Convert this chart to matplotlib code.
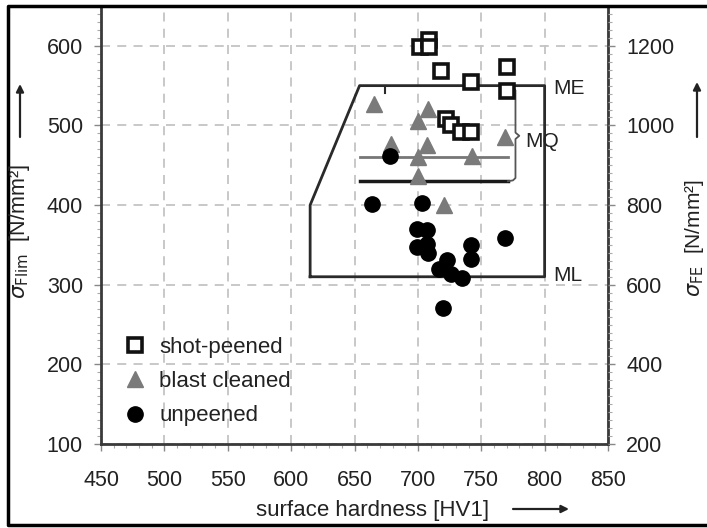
import matplotlib.pyplot as plt
from matplotlib.lines import Line2D
from matplotlib.patches import FancyArrowPatch
from matplotlib.ticker import MultipleLocator

plt.rcParams['font.family'] = ['Liberation Sans', 'DejaVu Sans']

# surface hardness [HV1] / sigma_Flim [N/mm^2]
shot_hv = [702, 709, 709, 718, 742, 770, 770, 722, 726, 734, 742]
shot_s = [598, 607, 598, 569, 554, 573, 543, 508, 500, 492, 492]

blast_hv = [665, 708, 700, 679, 707, 700, 743, 769, 700, 721]
blast_s = [527, 521, 506, 477, 475, 460, 462, 486, 437, 400]

unp_hv = [678, 664, 703, 699, 707, 699, 707, 708, 723, 717, 726, 735, 742, 742, 769, 720]
unp_s = [462, 401, 403, 370, 369, 347, 351, 340, 331, 320, 314, 309, 350, 332, 359, 271]

# material quality fields
me_hv = [615, 615, 654, 800, 800, 615]
me_s = [310, 400, 550, 550, 310, 310]
mq_hv = [654, 771]
mq_gray = 460
mq_black = 430

fig = plt.figure(figsize=(7.07, 5.28), dpi=100)
ax = fig.add_axes([101 / 707, 84 / 528, 507 / 707, 438 / 528])

ax.set_xlim(450, 850)
ax.set_ylim(100, 650)
ax.xaxis.set_major_locator(MultipleLocator(50))
ax.xaxis.set_minor_locator(MultipleLocator(10))
ax.yaxis.set_minor_locator(MultipleLocator(10))
ax.set_yticks([100, 200, 300, 400, 500, 600])

ax.grid(True, which='major', color='#c4c4c4', linestyle=(0, (5, 4)), linewidth=1.3)
ax.set_axisbelow(True)

for side in ['left', 'bottom', 'right']:
    ax.spines[side].set_color('#3a3a3a')
    ax.spines[side].set_linewidth(2)
ax.spines['top'].set_visible(False)

ax.tick_params(which='major', direction='out', length=5, width=1, color='#888888',
               labelsize=15.5, labelcolor='#222222')
ax.tick_params(which='minor', direction='out', length=3, width=0.8, color='#aaaaaa')
ax.tick_params(axis='y', pad=8)
ax.tick_params(axis='x', pad=14)

# ME / ML field and MQ lines
ax.plot(me_hv, me_s, color='#2a2a2a', linewidth=2, zorder=2)
ax.plot([674, 674], [550, 541], color='#2a2a2a', linewidth=1.5, zorder=2)
ax.plot(mq_hv, [mq_gray, mq_gray], color='#777777', linewidth=2, zorder=2)
ax.plot(mq_hv, [mq_black, mq_black], color='#1a1a1a', linewidth=2.5, zorder=2)

# curly brace for MQ
bx = [771, 775, 777, 777, 780, 777, 777, 775, 771]
by = [550, 548, 544, 491, 487, 483, 434, 431, 430]
ax.plot(bx, by, color='#555555', linewidth=1.3, zorder=2)

ax.text(807, 547, 'ME', fontsize=15, color='#222222', va='center')
ax.text(785, 480, 'MQ', fontsize=15, color='#222222', va='center')
ax.text(807, 311, 'ML', fontsize=15, color='#222222', va='center')

ax.plot(shot_hv, shot_s, linestyle='none', marker='s', markersize=10,
        markerfacecolor='white', markeredgecolor='#111111', markeredgewidth=2.6,
        label='shot-peened', zorder=4)
ax.plot(blast_hv, blast_s, linestyle='none', marker='^', markersize=11,
        color='#7a7a7a', label='blast cleaned', zorder=3)
ax.plot(unp_hv, unp_s, linestyle='none', marker='o', markersize=11,
        color='#000000', label='unpeened', zorder=3)

leg = ax.legend(loc='upper left', bbox_to_anchor=(0.025, 0.265), frameon=False,
                fontsize=16, handletextpad=0.55, labelspacing=0.6,
                handlelength=1.1, borderaxespad=0)
for t in leg.get_texts():
    t.set_color('#222222')

ax.set_xlabel('surface hardness [HV1]', fontsize=16, color='#222222')
ax.xaxis.set_label_coords(0.535, -0.128)

# right axis: sigma_FE = 2 * sigma_Flim
ax2 = ax.twinx()
ax2.set_ylim(200, 1300)
ax2.set_yticks([200, 400, 600, 800, 1000, 1200])
ax2.yaxis.set_minor_locator(MultipleLocator(20))
for side in ['left', 'bottom', 'right', 'top']:
    ax2.spines[side].set_visible(False)
ax2.tick_params(which='major', direction='out', length=5, width=1, color='#888888',
                labelsize=15.5, labelcolor='#222222', pad=8)
ax2.tick_params(which='minor', direction='out', length=3, width=0.8, color='#aaaaaa')

fig.text(20 / 707, 1 - 232 / 528, r'$\sigma_{\rm Flim}$  [N/mm²]', rotation=90,
         fontsize=15.5, color='#222222', ha='center', va='center')
fig.text(694 / 707, 1 - 238 / 528, r'$\sigma_{\rm FE}$  [N/mm²]', rotation=90,
         fontsize=15, color='#222222', ha='center', va='center')


# direction arrows next to the axis labels
def fig_arrow(x0, y0, x1, y1):
    fig.patches.append(FancyArrowPatch((x0 / 707, 1 - y0 / 528), (x1 / 707, 1 - y1 / 528),
                                       transform=fig.transFigure, arrowstyle='-|>',
                                       mutation_scale=11, color='#222222', lw=1.6,
                                       shrinkA=0, shrinkB=0))


fig_arrow(20, 137, 20, 84)
fig_arrow(697, 137, 697, 82)
fig_arrow(513, 509, 569, 509)

# outer frame (top, left, bottom)
fig.add_artist(Line2D([1, 8 / 707, 8 / 707, 1], [1 - 6 / 528, 1 - 6 / 528, 1 - 525 / 528, 1 - 525 / 528],
                      transform=fig.transFigure, color='black', linewidth=2.5))

fig.savefig('out.png', dpi=100)
